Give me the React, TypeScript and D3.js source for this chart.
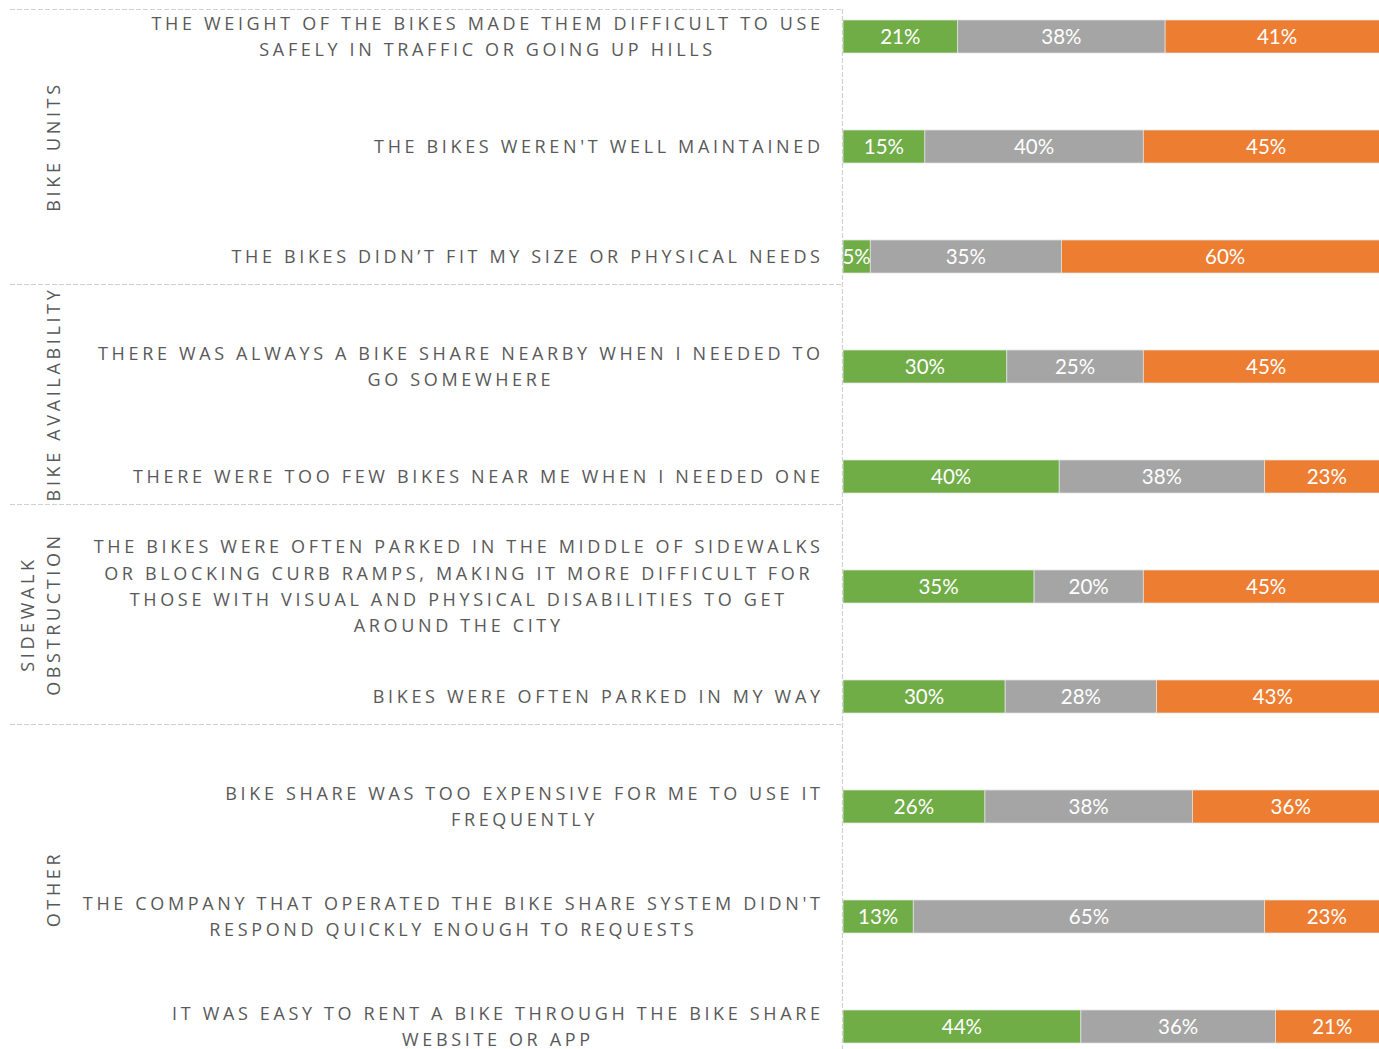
import { useEffect, useRef } from "react"
import * as d3 from "d3"

// category labels, already wrapped the way the chart wraps them
const categories = [
  ["THE WEIGHT OF THE BIKES MADE THEM DIFFICULT TO USE", "SAFELY IN TRAFFIC OR GOING UP HILLS"],
  ["THE BIKES WEREN'T WELL MAINTAINED"],
  ["THE BIKES DIDN\u2019T FIT MY SIZE OR PHYSICAL NEEDS"],
  ["THERE WAS ALWAYS A BIKE SHARE NEARBY WHEN I NEEDED TO", "GO SOMEWHERE"],
  ["THERE WERE TOO FEW BIKES NEAR ME WHEN I NEEDED ONE"],
  [
    "THE BIKES WERE OFTEN PARKED IN THE MIDDLE OF SIDEWALKS",
    "OR BLOCKING CURB RAMPS, MAKING IT MORE DIFFICULT FOR",
    "THOSE WITH VISUAL AND PHYSICAL DISABILITIES TO GET",
    "AROUND THE CITY",
  ],
  ["BIKES WERE OFTEN PARKED IN MY WAY"],
  ["BIKE SHARE WAS TOO EXPENSIVE FOR ME TO USE IT", "FREQUENTLY"],
  ["THE COMPANY THAT OPERATED THE BIKE SHARE SYSTEM DIDN'T", "RESPOND QUICKLY ENOUGH TO REQUESTS"],
  ["IT WAS EASY TO RENT A BIKE THROUGH THE BIKE SHARE", "WEBSITE OR APP"],
]

const groupNames = [["BIKE UNITS"], ["BIKE AVAILABILITY"], ["SIDEWALK", "OBSTRUCTION"], ["OTHER"]]
const groupOf = [0, 0, 0, 1, 1, 2, 2, 3, 3, 3]

const greenValues = [21, 15, 5, 30, 40, 35, 30, 26, 13, 44]
const grayValues = [38, 40, 35, 25, 38, 20, 28, 38, 65, 36]
const orangeValues = [41, 45, 60, 45, 23, 45, 43, 36, 23, 21]

const seriesKeys = ["green", "gray", "orange"]
const seriesColors = ["#70AD47", "#A5A5A5", "#ED7D31"]

const LABEL_FONT = "'Open Sans', sans-serif"
const LABEL_SIZE = 18
const LABEL_SPACING = 3.65
const LABEL_COLOR = "#595959"

export default function App() {
  const svgRef = useRef<SVGSVGElement>(null)

  useEffect(() => {
    if (!svgRef.current) return
    const width = 1379
    const height = 1049

    const svg = d3.select(svgRef.current).attr("width", width).attr("height", height)
    svg.selectAll("*").remove()

    const rows = categories.map((lines, i) => ({
      id: i,
      lines,
      green: greenValues[i],
      gray: grayValues[i],
      orange: orangeValues[i],
    }))

    const y = d3
      .scaleBand<number>()
      .domain(rows.map((d) => d.id))
      .range([20, 1043])
      .paddingInner(0.7)
      .paddingOuter(0)

    const x = d3.scaleLinear().domain([0, 1]).range([843, 1389])

    const stacked = d3.stack<any>().keys(seriesKeys).offset(d3.stackOffsetExpand)(rows)

    // Bars
    const layers = svg
      .append("g")
      .selectAll("g")
      .data(stacked)
      .join("g")
      .attr("fill", (_, i) => seriesColors[i])

    layers
      .selectAll("rect")
      .data((s) => s.map((d) => ({ d, key: s.key })))
      .join("rect")
      .attr("x", (p) => x(p.d[0]))
      .attr("y", (p) => y(p.d.data.id)!)
      .attr("width", (p) => x(p.d[1]) - x(p.d[0]))
      .attr("height", y.bandwidth())
      .attr("stroke", "#e2e2e2")
      .attr("stroke-width", 0.75)

    // Value labels
    layers
      .selectAll("text")
      .data((s) => s.map((d) => ({ d, key: s.key })))
      .join("text")
      .attr("x", (p) => (x(p.d[0]) + x(p.d[1])) / 2)
      .attr("y", (p) => y(p.d.data.id)! + y.bandwidth() / 2 + 7.2)
      .attr("text-anchor", "middle")
      .attr("font-family", "Lato, sans-serif")
      .attr("font-size", 20.5)
      .attr("fill", "#ffffff")
      .text((p) => `${p.d.data[p.key]}%`)

    // Group separators
    const gap = 11
    const groupBounds = groupNames.map((_, g) => {
      const idx = rows.filter((r) => groupOf[r.id] === g).map((r) => r.id)
      const first = d3.min(idx) as number
      const last = d3.max(idx) as number
      return {
        top: g === 0 ? y(first)! - gap : y(first - 1)! + y.bandwidth() + gap,
        bottom: y(last)! + y.bandwidth() + gap,
      }
    })

    const lines = svg
      .append("g")
      .attr("stroke", "#d0d0d0")
      .attr("stroke-width", 1.2)
      .attr("stroke-dasharray", "5 2")
      .attr("fill", "none")

    const sepYs = [groupBounds[0].top, ...groupBounds.slice(0, -1).map((b) => b.bottom)]
    lines
      .selectAll("line.sep")
      .data(sepYs)
      .join("line")
      .attr("class", "sep")
      .attr("x1", 10)
      .attr("x2", x(0))
      .attr("y1", (d) => Math.round(d) + 0.5)
      .attr("y2", (d) => Math.round(d) + 0.5)

    lines
      .append("line")
      .attr("x1", x(0) - 0.5)
      .attr("x2", x(0) - 0.5)
      .attr("y1", groupBounds[0].top)
      .attr("y2", height)

    // Group labels (rotated)
    const groupLayer = svg.append("g")
    groupNames.forEach((names, g) => {
      const cy = (groupBounds[g].top + groupBounds[g].bottom) / 2
      names.forEach((name, j) => {
        const bx = 60 - (names.length - 1 - j) * 26.5
        groupLayer
          .append("text")
          .attr("transform", `translate(${bx},${cy}) rotate(-90)`)
          .attr("text-anchor", "middle")
          .attr("font-family", LABEL_FONT)
          .attr("font-size", LABEL_SIZE)
          .attr("letter-spacing", `${LABEL_SPACING}px`)
          .attr("fill", LABEL_COLOR)
          .text(name)
      })
    })

    // Category labels: block right-aligned at 820, lines centred inside the block
    const labelRight = 820
    const lineHeight = 26.3
    const capHalf = (LABEL_SIZE * 0.714) / 2
    const catLayer = svg.append("g")
    rows.forEach((r) => {
      const cy = y(r.id)! + y.bandwidth() / 2
      const texts = r.lines.map((line, j) =>
        catLayer
          .append("text")
          .attr("y", cy + (j - (r.lines.length - 1) / 2) * lineHeight + capHalf)
          .attr("text-anchor", "middle")
          .attr("font-family", LABEL_FONT)
          .attr("font-size", LABEL_SIZE)
          .attr("letter-spacing", `${LABEL_SPACING}px`)
          .attr("fill", LABEL_COLOR)
          .text(line),
      )
      const widths = texts.map((t) => (t.node() as SVGTextElement).getComputedTextLength() - LABEL_SPACING)
      const blockW = d3.max(widths) as number
      const cx = labelRight - blockW / 2
      texts.forEach((t) => t.attr("x", cx + LABEL_SPACING / 2))
    })
  }, [])

  return <svg ref={svgRef} style={{ position: "absolute", left: 0, top: 0, background: "#fff" }} />
}
